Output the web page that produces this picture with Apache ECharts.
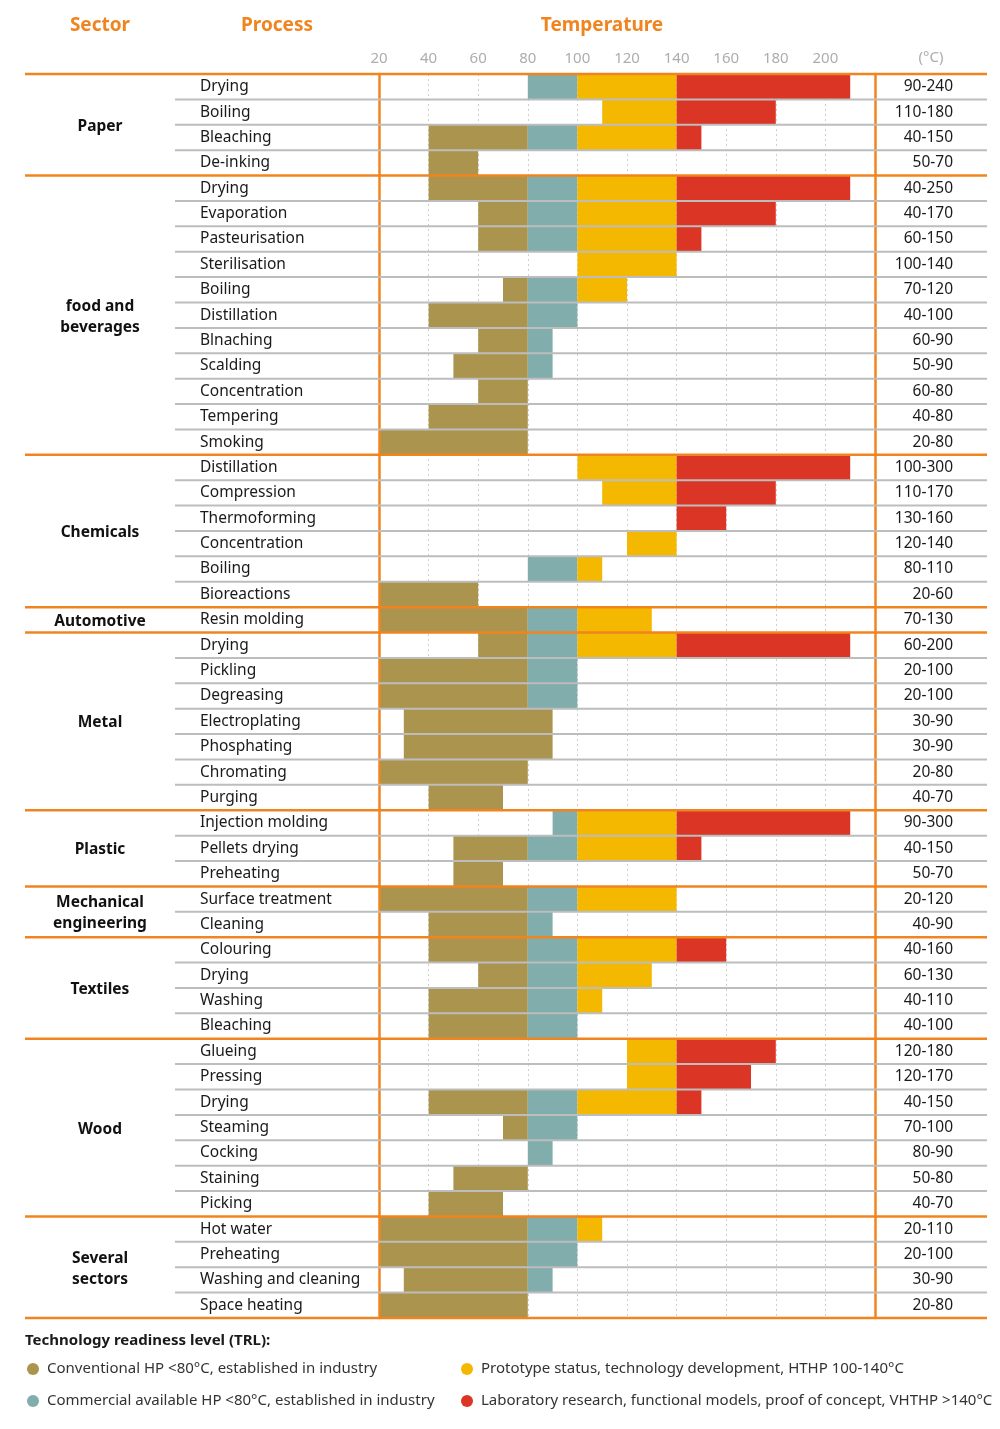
<!DOCTYPE html>
<html>
<head>
<meta charset="utf-8">
<script src="https://cdn.jsdelivr.net/npm/echarts@6/dist/echarts.min.js"></script>
<style>
    html, body { margin: 0; padding: 0; background: #fff; }
    #chart { width: 1000px; height: 1429px; }
</style>
</head>
<body>
<div id="chart"></div>
<script>
// sectors and number of process rows in each
const sectors = ['Paper', 'food and\nbeverages', 'Chemicals', 'Automotive', 'Metal', 'Plastic',
    'Mechanical\nengineering', 'Textiles', 'Wood', 'Several\nsectors']
const sectorRows = [4, 11, 6, 1, 7, 3, 2, 4, 7, 4]

const processes = [
    'Drying', 'Boiling', 'Bleaching', 'De-inking',
    'Drying', 'Evaporation', 'Pasteurisation', 'Sterilisation', 'Boiling', 'Distillation',
    'Blnaching', 'Scalding', 'Concentration', 'Tempering', 'Smoking',
    'Distillation', 'Compression', 'Thermoforming', 'Concentration', 'Boiling', 'Bioreactions',
    'Resin molding',
    'Drying', 'Pickling', 'Degreasing', 'Electroplating', 'Phosphating', 'Chromating', 'Purging',
    'Injection molding', 'Pellets drying', 'Preheating',
    'Surface treatment', 'Cleaning',
    'Colouring', 'Drying', 'Washing', 'Bleaching',
    'Glueing', 'Pressing', 'Drying', 'Steaming', 'Cocking', 'Staining', 'Picking',
    'Hot water', 'Preheating', 'Washing and cleaning', 'Space heating',
]

// temperature range column (°C)
const ranges = [
    '90-240', '110-180', '40-150', '50-70',
    '40-250', '40-170', '60-150', '100-140', '70-120', '40-100', '60-90', '50-90', '60-80', '40-80', '20-80',
    '100-300', '110-170', '130-160', '120-140', '80-110', '20-60',
    '70-130',
    '60-200', '20-100', '20-100', '30-90', '30-90', '20-80', '40-70',
    '90-300', '40-150', '50-70',
    '20-120', '40-90',
    '40-160', '60-130', '40-110', '40-100',
    '120-180', '120-170', '40-150', '70-100', '80-90', '50-80', '40-70',
    '20-110', '20-100', '30-90', '20-80',
]

// where each bar starts, then the length of every TRL segment
const barStart = [
    80, 110, 40, 40,
    40, 60, 60, 100, 70, 40, 60, 50, 60, 40, 20,
    100, 110, 140, 120, 80, 20,
    20,
    60, 20, 20, 30, 30, 20, 40,
    90, 50, 50,
    20, 40,
    40, 60, 40, 40,
    120, 120, 40, 70, 80, 50, 40,
    20, 20, 30, 20,
]
const conventional = [
    0, 0, 40, 20,
    40, 20, 20, 0, 10, 40, 20, 30, 20, 40, 60,
    0, 0, 0, 0, 0, 40,
    60,
    20, 60, 60, 60, 60, 60, 30,
    0, 30, 20,
    60, 40,
    40, 20, 40, 40,
    0, 0, 40, 10, 0, 30, 30,
    60, 60, 50, 60,
]
const commercial = [
    20, 0, 20, 0,
    20, 20, 20, 0, 20, 20, 10, 10, 0, 0, 0,
    0, 0, 0, 0, 20, 0,
    20,
    20, 20, 20, 0, 0, 0, 0,
    10, 20, 0,
    20, 10,
    20, 20, 20, 20,
    0, 0, 20, 20, 10, 0, 0,
    20, 20, 10, 0,
]
const prototype = [
    40, 30, 40, 0,
    40, 40, 40, 40, 20, 0, 0, 0, 0, 0, 0,
    40, 30, 0, 20, 10, 0,
    30,
    40, 0, 0, 0, 0, 0, 0,
    40, 40, 0,
    40, 0,
    40, 30, 10, 0,
    20, 20, 40, 0, 0, 0, 0,
    10, 0, 0, 0,
]
const laboratory = [
    70, 40, 10, 0,
    70, 40, 10, 0, 0, 0, 0, 0, 0, 0, 0,
    70, 40, 20, 0, 0, 0,
    0,
    70, 0, 0, 0, 0, 0, 0,
    70, 10, 0,
    0, 0,
    20, 0, 0, 0,
    40, 30, 10, 0, 0, 0, 0,
    0, 0, 0, 0,
]

const tempTicks = [20, 40, 60, 80, 100, 120, 140, 160, 180, 200]

const trlNames = [
    'Conventional HP <80°C, established in industry',
    'Commercial available HP <80°C, established in industry',
    'Prototype status, technology development, HTHP 100-140°C',
    'Laboratory research, functional models, proof of concept, VHTHP >140°C',
]
const trlColors = ['#AB944E', '#82ADAD', '#F5B800', '#DB3525']

const ORANGE = '#F08520'
const GREY = '#BDBDBD'
const FONT = 'Noto Sans'

const segment = (i, data) => ({
    name: trlNames[i],
    type: 'bar',
    stack: 'temp',
    barCategoryGap: '0%',
    data: data,
    itemStyle: { color: trlColors[i] },
    emphasis: { disabled: true },
})

const legendBox = (names, left) => ({
    data: names,
    orient: 'vertical',
    left: left,
    top: 1360,
    padding: 0,
    itemGap: 14,
    itemWidth: 18,
    itemHeight: 12,
    icon: 'circle',
    selectedMode: false,
    textStyle: { fontSize: 15, color: '#333', lineHeight: 18 },
})

const option = {
    animation: false,
    textStyle: { fontFamily: FONT },
    grid: { left: 379, right: 125, top: 74, bottom: 111, outerBoundsMode: 'none' },
    xAxis: {
        type: 'value',
        position: 'top',
        min: 20,
        max: 220,
        interval: 20,
        axisLine: { show: false },
        axisTick: { show: false },
        axisLabel: {
            margin: 8,
            color: '#ADADAD',
            fontSize: 15,
            formatter: (v) => (tempTicks.includes(v) ? String(v) : ''),
        },
        splitLine: { lineStyle: { color: '#CFCFCF', type: [2, 3], width: 1 } },
    },
    yAxis: [
        {
            type: 'category',
            inverse: true,
            data: processes,
            z: 5,
            axisLine: { lineStyle: { color: ORANGE, width: 2.5 } },
            axisTick: { show: false },
            axisLabel: {
                align: 'left', margin: 179, color: '#1A1A1A', fontSize: 15.5, interval: 0,
                padding: [4, 0, 0, 0],
            },
        },
        {
            type: 'category',
            inverse: true,
            position: 'right',
            data: ranges,
            z: 5,
            axisLine: { lineStyle: { color: ORANGE, width: 2.5 } },
            axisTick: { show: false },
            axisLabel: {
                align: 'right', margin: 78, color: '#1A1A1A', fontSize: 15.5, interval: 0,
                padding: [4, 0, 0, 0],
            },
        },
    ],
    legend: [
        legendBox(trlNames.slice(0, 2), 27),
        legendBox(trlNames.slice(2), 461),
    ],
    series: [
        {
            name: 'start',
            type: 'bar',
            stack: 'temp',
            barCategoryGap: '0%',
            data: barStart,
            itemStyle: { color: 'transparent' },
            emphasis: { disabled: true },
            silent: true,
        },
        segment(0, conventional),
        segment(1, commercial),
        segment(2, prototype),
        segment(3, laboratory),
    ],
}

const chart = echarts.init(document.getElementById('chart'))
chart.setOption(option)

// row separators, sector labels and headers placed from the category axis
const rowY = (i) => chart.convertToPixel({ yAxisIndex: 0 }, i)
const step = rowY(1) - rowY(0)
const hline = (y, x1, color, width) => ({
    type: 'line',
    z: 20,
    silent: true,
    shape: { x1: x1, y1: y, x2: 987, y2: y },
    style: { stroke: color, lineWidth: width },
})
const header = (text, x) => ({
    type: 'text',
    z: 20,
    x: x,
    y: 26,
    style: {
        text: text,
        fill: ORANGE,
        font: 'bold 19px "' + FONT + '"',
        textAlign: 'center',
        textVerticalAlign: 'middle',
    },
})

const graphics = [
    header('Sector', 100),
    header('Process', 277),
    header('Temperature', 602),
    {
        type: 'text',
        x: 931,
        y: 58,
        style: { text: '(°C)', fill: '#ADADAD', font: '15px "' + FONT + '"', textAlign: 'center', textVerticalAlign: 'middle' },
    },
    {
        type: 'text',
        x: 25,
        y: 1341,
        style: { text: 'Technology readiness level (TRL):', fill: '#1A1A1A', font: 'bold 15px "' + FONT + '"', textVerticalAlign: 'middle' },
    },
    hline(rowY(0) - step / 2, 25, ORANGE, 2.5),
]

let row = 0
sectors.forEach((name, s) => {
    const first = row
    const last = row + sectorRows[s] - 1
    for (let i = first + 1; i <= last; i++) {
        graphics.push(hline(rowY(i) - step / 2, 175, GREY, 2))
    }
    graphics.push(hline(rowY(last) + step / 2, 25, ORANGE, 2.5))
    graphics.push({
        type: 'text',
        z: 20,
        x: 100,
        y: (rowY(first) + rowY(last)) / 2 + 1.5,
        style: {
            text: name,
            fill: '#111',
            font: 'bold 15.5px "' + FONT + '"',
            lineHeight: 21,
            textAlign: 'center',
            textVerticalAlign: 'middle',
        },
    })
    row = last + 1
})

chart.setOption({ graphic: graphics })

window.addEventListener('resize', () => chart.resize())
</script>
</body>
</html>
